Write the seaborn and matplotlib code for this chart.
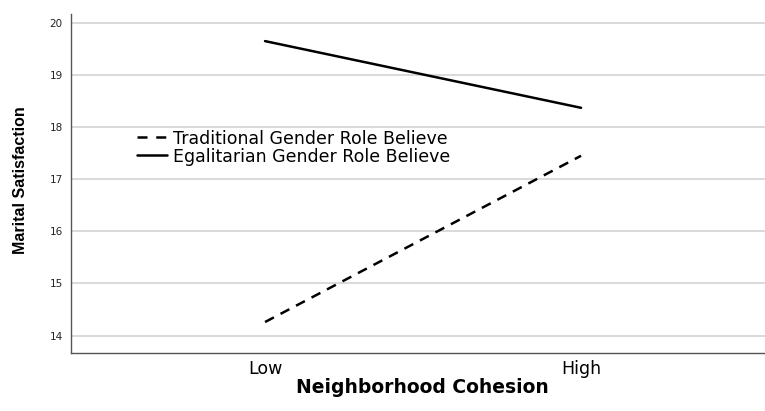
import matplotlib
matplotlib.use("Agg")
import matplotlib.pyplot as plt
from matplotlib.lines import Line2D
import pandas as pd
import seaborn as sns

# Estimated marginal means of marital satisfaction
cohesion_levels = ["Low", "High"]
traditional = [14.26, 17.45]
egalitarian = [19.65, 18.37]
series_names = ["Traditional Gender Role Believe", "Egalitarian Gender Role Believe"]
y_ticks = [14, 15, 16, 17, 18, 19, 20]

df = pd.DataFrame({
    "Neighborhood Cohesion": cohesion_levels * 2,
    "Marital Satisfaction": traditional + egalitarian,
    "Belief": [series_names[0]] * 2 + [series_names[1]] * 2,
})

sns.set_theme(style="white")
plt.rcParams["font.family"] = ["DejaVu Sans"]
plt.rcParams["text.color"] = "black"
plt.rcParams["axes.labelcolor"] = "black"

fig = plt.figure(figsize=(7.65, 4.11), dpi=100)
ax = fig.add_axes([71 / 765, 57.7 / 411, 1 - 71 / 765, (353.3 - 14) / 411])

lw = 1.8
dash_map = {series_names[0]: (4, 3), series_names[1]: ""}
sns.lineplot(data=df, x="Neighborhood Cohesion", y="Marital Satisfaction",
             style="Belief", style_order=series_names, dashes=dash_map,
             color="black", linewidth=lw, ax=ax, legend=False, sort=False)

ax.set_ylim(13.66, 20.17)
ax.set_xlim(-0.614, 1.582)
ax.set_yticks(y_ticks)
ax.yaxis.grid(True, color="#d9d9d9", linewidth=1.4)
ax.set_axisbelow(True)
for side in ["top", "right"]:
    ax.spines[side].set_visible(False)
for side in ["left", "bottom"]:
    ax.spines[side].set_color("#555555")
    ax.spines[side].set_linewidth(1.0)

ax.tick_params(axis="y", length=0, pad=6, labelsize=7.5, labelcolor="#222222")
ax.tick_params(axis="x", length=0, pad=5, labelsize=12.5, labelcolor="black")

ax.set_xlabel("Neighborhood Cohesion", fontsize=13.5, fontweight="bold")
ax.xaxis.set_label_coords(0.5065, -0.073)
ax.set_ylabel("Marital Satisfaction", fontsize=11.5, fontweight="bold",
              family="Liberation Sans")
ax.yaxis.set_label_coords(-0.062, 0.51)

handles = [
    Line2D([], [], color="black", linewidth=lw, dashes=(4, 3.5)),
    Line2D([], [], color="black", linewidth=lw),
]
ax.legend(handles, series_names, loc="center left",
          bbox_to_anchor=(137 / 765, 1 - 147.5 / 411), bbox_transform=fig.transFigure,
          frameon=False, fontsize=12.5, handlelength=1.75, handletextpad=0.3,
          labelspacing=0.0, borderpad=0, borderaxespad=0)

fig.savefig("out.png", dpi=100)
